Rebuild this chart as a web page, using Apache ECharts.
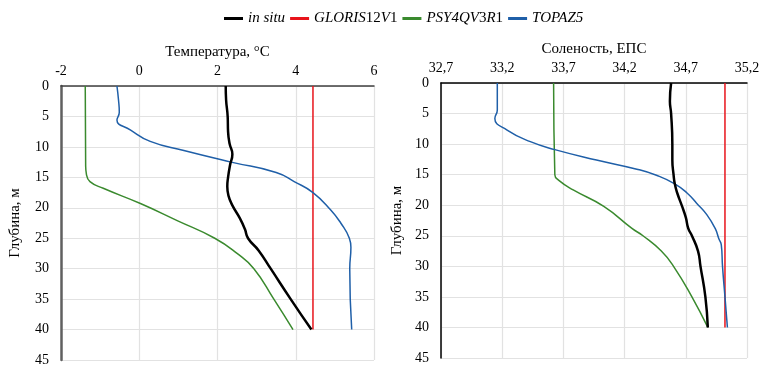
<!DOCTYPE html>
<html>
<head>
<meta charset="utf-8">
<script src="https://cdn.jsdelivr.net/npm/echarts@6/dist/echarts.min.js"></script>
<style>
  html, body { margin: 0; padding: 0; background: #fff; }
  #chart { width: 772px; height: 375px; }
</style>
</head>
<body>
<div id="chart"></div>
<script>
// temperature profiles (°C) vs depth (m)
const tDepthSitu = [0, 2.3, 5, 7.5, 9.5, 11.2, 13, 15, 16.5, 18, 19.6, 21.7, 23.5, 25, 27, 30, 35, 40]
const tSitu = [2.21, 2.22, 2.26, 2.27, 2.31, 2.38, 2.32, 2.27, 2.25, 2.28, 2.38, 2.57, 2.7, 2.78, 3.05, 3.36, 3.87, 4.4]
const tDepthGloris = [0, 40]
const tGloris = [4.44, 4.44]
const tDepthPsy = [0, 13, 14.5, 15.7, 16.8, 19.3, 22.1, 25, 27.5, 30, 35, 40]
const tPsy = [-1.38, -1.37, -1.35, -1.26, -0.92, 0.03, 0.97, 1.93, 2.5, 2.93, 3.44, 3.93]
const tDepthTopaz = [0, 2.3, 4.3, 5.6, 7.2, 9.1, 10.6, 12.5, 14.2, 15.7, 17.5, 20.4, 22.5, 25, 26.5, 30, 40]
const tTopaz = [-0.57, -0.53, -0.51, -0.57, -0.23, 0.28, 1.14, 2.35, 3.5, 3.96, 4.44, 4.9, 5.15, 5.37, 5.41, 5.38, 5.43]

// salinity profiles (ЕПС) vs depth (m)
const sDepthSitu = [0, 3, 5, 10, 12.6, 15, 16.5, 18, 20.2, 22, 23.8, 25, 27.5, 30, 35, 40]
const sSitu = [34.58, 34.57, 34.58, 34.59, 34.59, 34.6, 34.61, 34.63, 34.67, 34.7, 34.72, 34.75, 34.8, 34.82, 34.86, 34.88]
const sDepthGloris = [0, 40]
const sGloris = [35.02, 35.02]
const sDepthPsy = [0, 15, 15.9, 17.5, 20.2, 23.8, 25, 27.5, 30, 35, 40]
const sPsy = [33.62, 33.63, 33.66, 33.78, 34.03, 34.26, 34.35, 34.5, 34.6, 34.75, 34.88]
const sDepthTopaz = [0, 4.4, 5.8, 7.7, 9.6, 10.9, 12.6, 14.1, 15.1, 16.5, 18, 19.7, 21.5, 23.8, 25.5, 26.5, 30, 35, 40]
const sTopaz = [33.16, 33.16, 33.14, 33.24, 33.43, 33.63, 33.97, 34.3, 34.46, 34.61, 34.71, 34.79, 34.87, 34.94, 34.97, 34.99, 35.0, 35.02, 35.04]

const names = ['in situ', 'GLORIS12V1', 'PSY4QV3R1', 'TOPAZ5']
const richNames = {
  'in situ': '{i|in situ}',
  'GLORIS12V1': '{i|GLORIS}{n|12}{i|V}{n|1}',
  'PSY4QV3R1': '{i|PSY4QV}{n|3}{i|R}{n|1}',
  'TOPAZ5': '{i|TOPAZ5}',
}
const colors = ['#000000', '#e8141b', '#3a8a2e', '#1f5fa8']
const widths = [2.5, 1.5, 1.5, 1.5]

const font = '"Liberation Serif", "DejaVu Serif", serif'

function pairs(xs, ds) {
  return xs.map((v, i) => [v, ds[i]])
}

function profile(name, idx, xs, ds, axis) {
  return {
    name,
    type: 'line',
    xAxisIndex: axis,
    yAxisIndex: axis,
    data: pairs(xs, ds),
    smooth: 0.5,
    showSymbol: false,
    symbol: 'none',
    z: idx === 0 ? 5 : 3,
    lineStyle: { color: colors[idx], width: widths[idx] },
    itemStyle: { color: colors[idx] },
  }
}

function xAxisCfg(grid, name, min, max, step, fmt, lineColor) {
  return {
    gridIndex: grid,
    type: 'value',
    position: 'top',
    min, max, interval: step,
    name,
    nameLocation: 'middle',
    nameGap: 26,
    nameTextStyle: { fontFamily: font, fontSize: 15, color: '#000' },
    axisLine: { show: true, onZero: false, lineStyle: { color: lineColor, width: 1.5 } },
    axisTick: { show: false },
    axisLabel: { fontFamily: font, fontSize: 14, color: '#000', margin: 8, formatter: fmt },
    splitLine: { show: true, lineStyle: { color: '#e2e2e2', width: 1.2 } },
  }
}

function yAxisCfg(grid, lineColor, lineWidth, nameGap) {
  return {
    gridIndex: grid,
    type: 'value',
    inverse: true,
    min: 0, max: 45, interval: 5,
    name: 'Глубина, м',
    nameLocation: 'middle',
    nameGap,
    nameRotate: 90,
    nameTextStyle: { fontFamily: font, fontSize: 15, color: '#000' },
    axisLine: { show: true, onZero: false, lineStyle: { color: lineColor, width: lineWidth } },
    axisTick: { show: false },
    axisLabel: { fontFamily: font, fontSize: 14, color: '#000', margin: 12 },
    splitLine: { show: true, lineStyle: { color: '#e2e2e2', width: 1.2 } },
  }
}

const chart = echarts.init(document.getElementById('chart'))
chart.setOption({
  animation: false,
  backgroundColor: '#fff',
  legend: {
    data: names,
    top: 6,
    left: 219,
    itemWidth: 19,
    itemHeight: 3,
    itemGap: 5,
    icon: 'rect',
    formatter: n => richNames[n],
    textStyle: {
      fontFamily: font,
      fontSize: 15,
      color: '#000',
      rich: {
        i: { fontFamily: font, fontSize: 15, fontStyle: 'italic', color: '#000' },
        n: { fontFamily: font, fontSize: 15, color: '#000' },
      },
    },
  },
  grid: [
    { left: 61, right: 398, top: 86, bottom: 15 },
    { left: 441, right: 25, top: 83, bottom: 17 },
  ],
  xAxis: [
    xAxisCfg(0, 'Температура, °C', -2, 6, 2, v => String(v), '#404040'),
    xAxisCfg(1, 'Соленость, ЕПС', 32.7, 35.2, 0.5, v => v.toFixed(1).replace('.', ','), '#000'),
  ],
  yAxis: [
    yAxisCfg(0, '#606060', 2.5, 38),
    yAxisCfg(1, '#000', 1.5, 36),
  ],
  series: [
    profile(names[0], 0, tSitu, tDepthSitu, 0),
    profile(names[1], 1, tGloris, tDepthGloris, 0),
    profile(names[2], 2, tPsy, tDepthPsy, 0),
    profile(names[3], 3, tTopaz, tDepthTopaz, 0),
    profile(names[0], 0, sSitu, sDepthSitu, 1),
    profile(names[1], 1, sGloris, sDepthGloris, 1),
    profile(names[2], 2, sPsy, sDepthPsy, 1),
    profile(names[3], 3, sTopaz, sDepthTopaz, 1),
  ],
})
</script>
</body>
</html>
